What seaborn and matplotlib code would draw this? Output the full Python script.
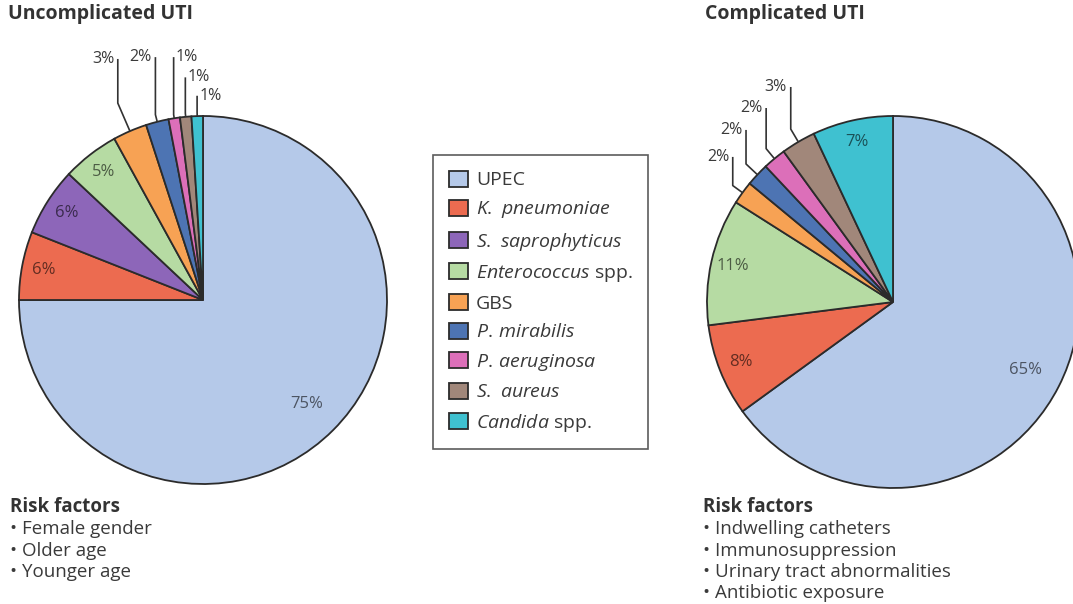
import numpy as np
import matplotlib
matplotlib.use("Agg")
import matplotlib.pyplot as plt
from matplotlib.colors import to_rgb
import seaborn as sns

# Data
categories = ["UPEC", "K. pneumoniae", "S. saprophyticus", "Enterococcus spp.", "GBS",
              "P. mirabilis", "P. aeruginosa", "S. aureus", "Candida spp."]
legend_labels = ["UPEC", r"$\mathit{K.\ pneumoniae}$", r"$\mathit{S.\ saprophyticus}$",
                 r"$\mathit{Enterococcus}$ spp.", "GBS", r"$\mathit{P.\,mirabilis}$",
                 r"$\mathit{P.\,aeruginosa}$", r"$\mathit{S.\ aureus}$", r"$\mathit{Candida}$ spp."]
uncomplicated = [75, 6, 6, 5, 3, 2, 1, 1, 1]
complicated = [65, 8, 0, 11, 2, 2, 2, 3, 7]
risk_uncomplicated = ["Female gender", "Older age", "Younger age"]
risk_complicated = ["Indwelling catheters", "Immunosuppression",
                    "Urinary tract abnormalities", "Antibiotic exposure"]

colors = ["#b5c9e9", "#ec6b50", "#8d66b9", "#b6dba3", "#f7a254",
          "#4d74b3", "#dc6fb9", "#a1877a", "#3fc1d0"]

sns.set_theme(style="white")
plt.rcParams["font.family"] = ["Open Sans", "DejaVu Sans"]
plt.rcParams["mathtext.fontset"] = "custom"
plt.rcParams["mathtext.rm"] = "Open Sans"
plt.rcParams["mathtext.it"] = "Open Sans:italic"

W, H = 1073, 604
fig = plt.figure(figsize=(W / 100, H / 100), dpi=100)


def box(cx, cy, r):
    # axes box (figure fraction) for a pie centred at pixel (cx, cy) with radius r
    return [(cx - r) / W, 1 - (cy + r) / H, 2 * r / W, 2 * r / H]


text_col = "#3a3a3a"
edge_col = "#2b2b2b"

# layout for small (outside) labels: radial kink, text height (radius units), text side
small_layout = {
    "left": {"ext": [1.166, 1.04, 1.02, 1.02, 1.02],
             "levels": [1.31, 1.32, 1.32, 1.21, 1.11],
             "sides": ["left", "left", "right", "right", "right"]},
    "right": {"ext": [1.065, 1.084, 1.07, 1.08],
              "levels": [0.78, 0.925, 1.043, 1.156],
              "sides": ["left", "left", "left", "left"]},
}


def draw_pie(ax, values, layout):
    vals = [v for v in values if v > 0]
    cols = [c for v, c in zip(values, colors) if v > 0]
    wedges, _ = ax.pie(vals, colors=cols, startangle=90, counterclock=False,
                       wedgeprops=dict(edgecolor=edge_col, linewidth=1.3))
    ax.set_xlim(-1, 1)
    ax.set_ylim(-1, 1)
    ax.set_aspect("equal")
    ax.axis("off")
    k = 0
    for i, (w, v) in enumerate(zip(wedges, vals)):
        mid = np.deg2rad((w.theta1 + w.theta2) / 2)
        ux, uy = np.cos(mid), np.sin(mid)
        if v >= 5:
            d = 0.8 if i == 0 else 0.88
            dark = np.array(to_rgb(cols[i])) * 0.42
            ax.text(d * ux, d * uy, f"{v}%", ha="center", va="center",
                    fontsize=12, color=dark)
        else:
            lvl = layout["levels"][k]
            side = layout["sides"][k]
            e = layout["ext"][k]
            k += 1
            kx, ky = e * ux, e * uy
            ax.plot([ux, kx, kx], [uy, ky, lvl], color="#333333", lw=1.2,
                    clip_on=False, solid_capstyle="butt")
            if side == "left":
                ax.text(kx - 0.02, lvl, f"{v}%", ha="right", va="center",
                        fontsize=11.5, color=text_col)
            else:
                ax.text(kx + 0.012, lvl, f"{v}%", ha="left", va="center",
                        fontsize=11.5, color=text_col)
    return wedges


ax1 = fig.add_axes(box(203, 300, 184))
wedges1 = draw_pie(ax1, uncomplicated, small_layout["left"])
ax2 = fig.add_axes(box(893, 302, 186))
draw_pie(ax2, complicated, small_layout["right"])

# Titles
fig.text(8 / W, 1 - 14 / H, "Uncomplicated UTI", fontsize=14, fontweight="bold",
         color="#333333", ha="left", va="center")
fig.text(705 / W, 1 - 14 / H, "Complicated UTI", fontsize=14, fontweight="bold",
         color="#333333", ha="left", va="center")

# Risk factors
for x0, items in [(10, risk_uncomplicated), (703, risk_complicated)]:
    fig.text(x0 / W, 1 - 507 / H, "Risk factors", fontsize=13.5, fontweight="bold",
             color="#333333", ha="left", va="center")
    for j, item in enumerate(items):
        fig.text(x0 / W, 1 - (529 + 21.5 * j) / H, "\u2022 " + item, fontsize=13.5,
                 color=text_col, ha="left", va="center")

# Legend
leg = fig.legend(wedges1, legend_labels, loc="upper left",
                 bbox_to_anchor=(433 / W, 1 - 155 / H), borderaxespad=0,
                 fontsize=14, handlelength=1.0, handleheight=0.9,
                 labelspacing=0.52, handletextpad=0.4, borderpad=0.8,
                 fancybox=False, frameon=True)
leg.get_frame().set_edgecolor("#333333")
leg.get_frame().set_linewidth(1.2)
for t in leg.get_texts():
    t.set_color(text_col)

fig.savefig("out.png", dpi=100)
